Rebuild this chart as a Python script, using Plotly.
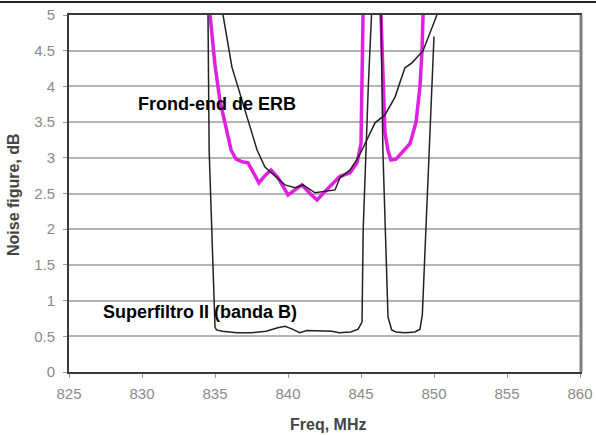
import plotly.graph_objects as go

# Superfiltro II (banda B) - black thin
sf_x = [834.52, 834.6, 835.0, 835.1, 835.5, 836.5, 837.5, 838.5, 839.3, 839.8, 840.3, 840.8, 841.3, 842.0,
        843.0, 843.5, 844.3, 844.8, 845.07, 845.15, 845.34, 845.5, 845.72,
        None,
        846.37, 846.5, 846.85, 847.1, 847.4, 848.0, 848.7, 849.04, 849.2, 849.7, 850.0]
sf_y = [5.0, 3.1, 0.63, 0.59, 0.57, 0.55, 0.55, 0.57, 0.62, 0.64, 0.6, 0.55, 0.58, 0.58,
        0.57, 0.55, 0.56, 0.6, 0.7, 2.0, 3.1, 4.0, 5.0,
        None,
        5.0, 3.1, 0.77, 0.59, 0.56, 0.55, 0.56, 0.6, 0.8, 3.1, 4.7]

# Frond-end de ERB - black thin
fe_x = [835.55, 836.16, 837.88, 838.42, 839.79, 840.48, 841.03, 841.85, 843.22, 843.56, 844.25,
        844.79, 845.07, 845.96, 846.64, 847.33, 848.01, 848.49, 849.25, 850.2]
fe_y = [5.0, 4.27, 3.11, 2.87, 2.62, 2.58, 2.62, 2.51, 2.55, 2.72, 2.83,
        3.0, 3.11, 3.49, 3.6, 3.85, 4.26, 4.33, 4.5, 5.0]

# Magenta curve
mg_x = [834.66, 835.0, 835.34, 835.75, 836.1, 836.44, 836.92, 837.26, 837.6, 838.01, 838.42, 838.84,
        839.32, 840.0, 840.48, 840.96, 841.51, 841.99, 842.4, 842.88, 843.22, 843.56, 844.25, 844.73,
        845.0, 845.07, 845.14,
        None,
        846.37, 846.5, 846.64, 846.85, 847.05, 847.4, 847.8, 848.36, 848.77, 849.04, 849.18, 849.25]
mg_y = [5.0, 4.3, 3.8, 3.4, 3.11, 2.98, 2.94, 2.93, 2.8, 2.65, 2.75, 2.83,
        2.72, 2.48, 2.55, 2.62, 2.5, 2.41, 2.5, 2.6, 2.68, 2.74, 2.79, 2.93,
        3.2, 4.0, 5.0,
        None,
        5.0, 4.0, 3.35, 3.1, 2.97, 2.98, 3.07, 3.2, 3.5, 4.0, 4.5, 5.0]

x_ticks = [825, 830, 835, 840, 845, 850, 855, 860]
y_ticks = [0, 0.5, 1, 1.5, 2, 2.5, 3, 3.5, 4, 4.5, 5]
y_tick_text = ["0", "0.5", "1", "1.5", "2", "2.5", "3", "3.5", "4", "4.5", "5"]

fig = go.Figure()
fig.add_trace(go.Scatter(x=mg_x, y=mg_y, mode="lines", line=dict(color="#e020e0", width=3.5),
                         connectgaps=False, showlegend=False))
fig.add_trace(go.Scatter(x=fe_x, y=fe_y, mode="lines", line=dict(color="#222222", width=1.5),
                         connectgaps=False, showlegend=False))
fig.add_trace(go.Scatter(x=sf_x, y=sf_y, mode="lines", line=dict(color="#222222", width=1.5),
                         connectgaps=False, showlegend=False))

fig.update_layout(
    width=596, height=435,
    margin=dict(l=69, r=16, t=15, b=63, autoexpand=False),
    paper_bgcolor="white", plot_bgcolor="white",
    font=dict(family="Liberation Sans, Arial, sans-serif"),
    xaxis=dict(range=[825, 860], tickvals=x_ticks, showgrid=False, zeroline=False,
               ticks="outside", ticklen=4, tickcolor="#999999", ticklabelstandoff=3,
               tickfont=dict(size=15, color="#8a8a8a"), automargin=False,
               showline=True, mirror=True, linecolor="#3a3a3a", linewidth=2),
    yaxis=dict(range=[0, 5], tickvals=y_ticks, ticktext=y_tick_text, showgrid=True,
               gridcolor="#b4b4b4", gridwidth=2, zeroline=False,
               ticks="outside", ticklen=4, tickcolor="#999999", ticklabelstandoff=5,
               tickfont=dict(size=15, color="#8a8a8a"), automargin=False,
               showline=True, mirror=True, linecolor="#3a3a3a", linewidth=2),
    annotations=[
        dict(x=835.14, y=3.75, xref="x", yref="y", text="<b>Frond-end de ERB</b>", showarrow=False,
             font=dict(size=18, color="black"), xanchor="center", yanchor="middle"),
        dict(x=833.97, y=0.84, xref="x", yref="y", text="<b>Superfiltro II (banda B)</b>", showarrow=False,
             font=dict(size=18, color="black"), xanchor="center", yanchor="middle"),
        dict(x=(328 - 69) / 511, y=(372 - 425) / 357, xref="paper", yref="paper",
             xanchor="center", yanchor="middle",
             text="<b>Freq, MHz</b>", showarrow=False, font=dict(size=16, color="#444444")),
        dict(x=(13 - 69) / 511, y=(372 - 195) / 357, xref="paper", yref="paper", textangle=-90,
             xanchor="center", yanchor="middle",
             text="<b>Noise figure, dB</b>", showarrow=False, font=dict(size=16, color="#444444")),
    ],
    shapes=[
        dict(type="line", xref="paper", yref="paper", x0=-69/511, x1=527/511, y0=370/357, y1=370/357,
             line=dict(color="#222222", width=2)),
        dict(type="line", xref="paper", yref="paper", x0=1.002, x1=1.002, y0=0, y1=1,
             line=dict(color="#808080", width=3), layer="above"),
    ],
)

fig.write_html("out.html", post_script="document.body.style.margin='0';",
               config={"displayModeBar": False})
